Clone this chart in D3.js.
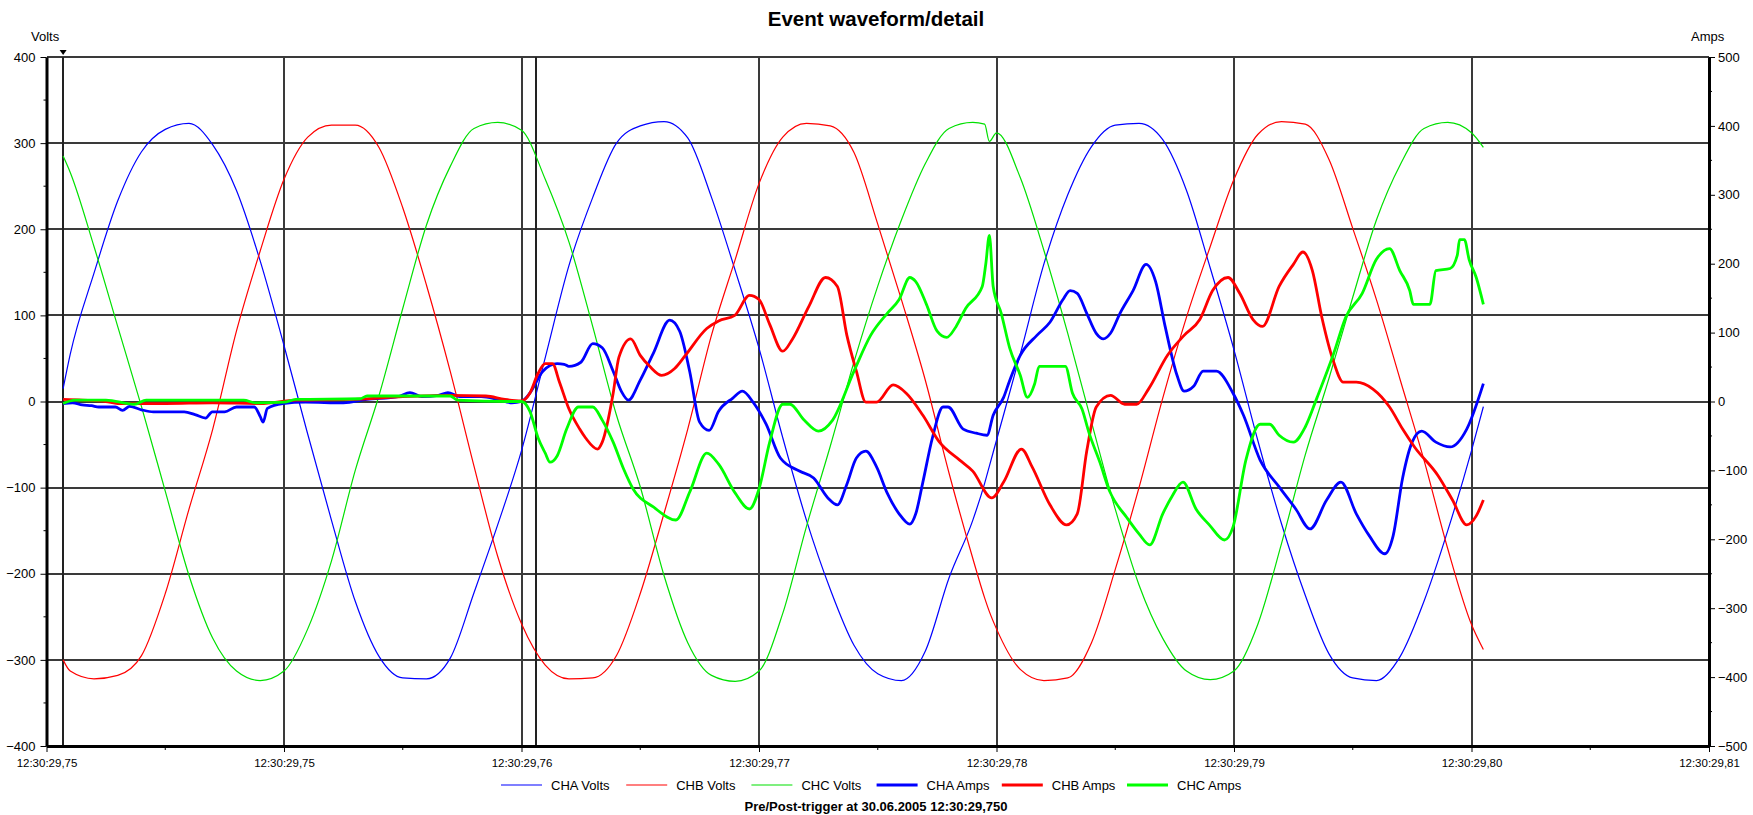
<!DOCTYPE html>
<html>
<head>
<meta charset="utf-8">
<script src="https://cdn.jsdelivr.net/npm/d3@7"></script>
<style>
body { margin: 0; background: #fff; }
svg text { font-family: Arial, "Liberation Sans", sans-serif; fill: #000; }
</style>
</head>
<body>
<script>
// x axis: time in ms after 12:30:29,745 (one major division = 10 ms)
var xTicks = [0, 10, 20, 30, 40, 50, 60, 70];
var xMinorTicks = [5, 15, 25, 35, 45, 55, 65];
var xTickLabels = ["12:30:29,75", "12:30:29,75", "12:30:29,76", "12:30:29,77",
                   "12:30:29,78", "12:30:29,79", "12:30:29,80", "12:30:29,81"];
var voltTicks = [-400, -300, -200, -100, 0, 100, 200, 300, 400];
var ampTicks = [-500, -400, -300, -200, -100, 0, 100, 200, 300, 400, 500];
var cursorT = [0.7, 20.63];

// voltage samples (V)
var voltT = [0.7, 1, 2, 3, 4, 5, 6, 7, 8, 9, 10,
  11, 12, 13, 14, 15, 16, 17, 18, 19, 20,
  21, 22, 23, 24, 25, 26, 27, 28, 29, 30,
  31, 32, 33, 34, 35, 36, 37, 38, 39, 39.5, 39.7,
  40, 41, 42, 43, 44, 45, 46, 47, 48, 49, 50,
  51, 52, 53, 54, 55, 56, 57, 58, 59, 60, 60.5];
var chaVolts = [15, 55, 149, 233, 290, 316, 323, 298, 245, 163, 65,
  -38, -138, -232, -296, -321, -322, -298, -222, -143, -57,
  51, 158, 237, 300, 320, 325, 306, 237, 152, 62,
  -42, -138, -218, -283, -316, -324, -290, -205, -138, -95, -75,
  -45, 55, 160, 240, 296, 321, 323, 304, 245, 155, 60,
  -45, -142, -225, -293, -321, -324, -296, -232, -150, -57, -6];
var chbVolts = [-300, -313, -322, -318, -295, -223, -125, -32, 82, 175, 258,
  307, 321, 321, 295, 225, 135, 35, -75, -180, -258,
  -306, -322, -321, -295, -223, -130, -32, 77, 165, 253,
  307, 323, 320, 289, 206, 118, 25, -83, -182, -228, -244,
  -264, -311, -324, -321, -280, -195, -100, 4, 98, 180, 258,
  310, 325, 322, 281, 201, 118, 25, -68, -171, -259, -288];
var chcVolts = [285, 266, 180, 87, -6, -104, -202, -275, -313, -324, -313,
  -264, -185, -80, 7, 108, 205, 273, 317, 324, 315,
  258, 185, 87, -16, -99, -202, -280, -318, -325, -313,
  -246, -145, -52, 46, 134, 211, 276, 317, 324, 322, 302,
  312, 260, 175, 79, -24, -125, -213, -275, -313, -323, -313,
  -259, -165, -62, 27, 121, 211, 275, 317, 324, 312, 295];

// current samples (A)
var chaAmpsT = [0.7, 1.1, 1.5, 1.9, 2.2, 2.9, 3.2, 3.5, 4.0, 4.5, 5.8, 6.25, 6.7, 6.98, 7.5, 8.0, 8.75, 9.0, 9.12, 9.3,
  9.95, 10.9, 12.5, 13.5, 14.8, 15.3, 15.8, 16.5, 16.9, 17.4, 18.3, 19.0, 19.6, 20.0,
  20.35, 20.9, 21.5, 21.8, 22.0, 22.5, 23.0, 23.4, 23.86, 24.2, 24.5, 25.0, 25.55, 26.24, 26.66, 27.08,
  27.5, 27.9, 28.3, 28.9, 29.3, 29.75, 30.3, 30.9, 31.7, 32.3, 32.9, 33.3, 33.7, 34.1, 34.5, 34.95,
  35.4, 35.9, 36.35, 36.6, 36.9, 37.3, 37.75, 37.96, 38.6, 39.15, 39.6, 39.86, 40.3, 40.56, 41.0,
  41.7, 42.25, 42.8, 43.1, 43.4, 43.8, 44.2, 44.5, 44.8, 45.2, 45.75, 46.3, 46.7, 47.1, 47.6, 47.9,
  48.3, 48.7, 49.26, 49.96, 50.4, 51.1, 51.9, 52.6, 53.2, 53.9, 54.5, 55.15, 55.7, 56.35, 56.7,
  57.1, 57.5, 57.9, 58.5, 59.1, 59.8, 60.5];
var chaAmps = [-3, -2, -5, -6, -8, -8, -13, -7, -12, -15, -15, -19, -24, -15, -15, -8, -8, -22, -30, -10,
  -3, -1, -2, 3, 7, 13, 7, 9, 13, 7, 7, 3, -2, 0,
  12, 44, 55, 54, 51, 57, 84, 78, 44, 15, 2, 31, 70, 118, 102, 44,
  -30, -42, -14, 5, 15, -1, -33, -82, -101, -111, -140, -150, -120, -82, -72, -95,
  -133, -163, -178, -163, -117, -53, -8, -8, -40, -46, -49, -20, 6, 31, 67,
  96, 115, 148, 161, 157, 128, 99, 91, 99, 128, 161, 199, 174, 109, 38, 15,
  22, 44, 44, 12, -20, -85, -124, -156, -185, -143, -117, -163, -195, -221, -195,
  -111, -59, -43, -59, -66, -40, 26];

var chbAmpsT = [0.7, 1.5, 2.5, 3.0, 5.0, 7.0, 9.0, 10.5, 13.0, 15.0, 17.0, 18.5, 19.3, 20.0,
  20.35, 20.7, 21.0, 21.3, 21.6, 22.0, 22.45, 22.7, 23.2, 23.4, 23.86, 24.1, 24.6, 25.0, 25.4, 25.9,
  26.45, 26.9, 27.8, 28.3, 28.98, 29.6, 30.0, 30.45, 31.0, 31.4, 32.1, 32.8, 33.3, 33.7, 34.1, 34.5,
  34.95, 35.65, 36.2, 36.9, 37.6, 38.45, 39.0, 39.8, 40.3, 41.05, 41.5, 42.25, 42.95, 43.4, 43.8,
  44.2, 44.8, 45.4, 45.9, 46.4, 47.2, 47.9, 48.56, 49.1, 49.75, 50.24, 50.8, 51.2, 51.9, 52.5,
  52.9, 53.3, 53.7, 54.2, 54.6, 55.15, 55.85, 56.55, 57.1, 57.6, 58.6, 59.2, 59.8, 60.2, 60.5];
var chbAmps = [3, 2, 0, -3, -3, -2, -3, 2, 3, 7, 9, 8, 3, 1,
  12, 41, 55, 55, 28, -11, -40, -53, -69, -59, 12, 64, 91, 67, 51, 38,
  48, 67, 106, 117, 125, 154, 148, 112, 73, 90, 138, 180, 167, 96, 44, -1,
  -1, 24, 12, -20, -59, -85, -101, -140, -117, -69, -95, -150, -179, -163, -72,
  -8, 9, -4, -4, 18, 67, 96, 119, 161, 180, 157, 119, 109, 167, 199,
  217, 190, 122, 57, 28, 28, 18, -8, -40, -66, -108, -143, -179, -166, -143];

var chcAmpsT = [0.7, 1.2, 2.5, 3.7, 4.2, 8.3, 8.8, 10.0, 10.5, 13.2, 13.5, 17.0, 17.3, 19.5, 20.0,
  20.35, 20.7, 21.0, 21.2, 21.5, 21.9, 22.4, 23.0, 23.4, 23.86, 24.3, 24.7, 25.55, 26.5, 27.1,
  27.8, 28.3, 29.0, 29.6, 30.0, 30.45, 31.0, 31.3, 31.9, 32.5, 33.1, 34.0, 34.7, 35.4, 35.9,
  36.35, 36.6, 37.05, 37.5, 37.9, 38.3, 38.7, 39.4, 39.55, 39.7, 39.86, 40.2, 40.56, 41.0, 41.3,
  41.6, 41.8, 42.9, 43.2, 43.6, 43.9, 44.35, 44.76, 45.5, 46.0, 46.45, 47.0, 47.4, 47.85, 48.4,
  48.96, 49.6, 49.96, 50.5, 51.1, 51.5, 51.9, 52.5, 53.0, 53.5, 54.2, 54.7, 55.4, 55.99, 56.55,
  56.98, 57.4, 57.55, 58.25, 58.5, 59.1, 59.4, 59.5, 59.7, 59.9, 60.2, 60.5];
var chcAmps = [-3, 2, 2, -4, 2, 2, -2, -1, 3, 4, 8, 8, 2, 0, 0,
  -14, -53, -75, -88, -79, -40, -8, -8, -27, -59, -98, -127, -153, -172, -130,
  -75, -91, -133, -156, -127, -59, -4, -4, -27, -43, -27, 44, 96, 128, 148,
  180, 174, 141, 102, 93, 109, 135, 167, 200, 241, 167, 128, 77, 38, 6,
  25, 51, 51, 12, -11, -46, -88, -130, -169, -192, -208, -163, -137, -117, -156,
  -179, -201, -182, -85, -33, -33, -49, -59, -37, 6, 70, 122, 157, 206, 222,
  190, 161, 141, 141, 190, 193, 212, 235, 235, 206, 180, 141];

var seriesNames = ["CHA Volts", "CHB Volts", "CHC Volts", "CHA Amps", "CHB Amps", "CHC Amps"];
var seriesColors = ["#0000ff", "#ff0000", "#00e000", "#0000ff", "#ff0000", "#00ff00"];

window.onload = function() {
  var W = 1753, H = 815;
  var left = 46.5, right = 1709, top = 57, bottom = 746;

  var svg = d3.select("body").append("svg").attr("width", W).attr("height", H);

  var x = d3.scaleLinear().domain([0, 70]).range([left, right]);
  var yV = d3.scaleLinear().domain([-400, 400]).range([bottom, top]);
  var yA = d3.scaleLinear().domain([-500, 500]).range([bottom, top]);

  //Grid lines
  var grid = svg.append("g").attr("stroke", "#3a3a3a").attr("stroke-width", 2).attr("shape-rendering", "crispEdges");
  grid.selectAll("line.h").data(voltTicks.filter(function(d) { return d > -400; })).enter()
    .append("line").attr("class", "h")
    .attr("x1", left).attr("x2", right)
    .attr("y1", function(d) { return yV(d); }).attr("y2", function(d) { return yV(d); });
  grid.selectAll("line.v").data(xTicks.filter(function(d) { return d > 0 && d < 70; })).enter()
    .append("line").attr("class", "v")
    .attr("x1", function(d) { return x(d); }).attr("x2", function(d) { return x(d); })
    .attr("y1", top).attr("y2", bottom);

  //Cursors
  svg.selectAll("line.cursor").data(cursorT).enter().append("line").attr("class", "cursor")
    .attr("x1", function(d) { return x(d); }).attr("x2", function(d) { return x(d); })
    .attr("y1", top).attr("y2", bottom)
    .attr("stroke", "#222").attr("stroke-width", 2).attr("shape-rendering", "crispEdges");
  var cx = x(cursorT[0]);
  svg.append("path").attr("d", "M" + (cx - 3.5) + "," + (top - 7) + "L" + (cx + 3.5) + "," + (top - 7) + "L" + cx + "," + (top - 2) + "Z")
    .attr("fill", "#000");

  //Lines
  function lineFor(times, yScale) {
    return d3.line().x(function(d, i) { return x(times[i]); }).y(function(d) { return yScale(d); })
      .curve(d3.curveMonotoneX);
  }
  var plots = [
    [chaVolts, voltT, yV, 0, 1.2], [chbVolts, voltT, yV, 1, 1.2], [chcVolts, voltT, yV, 2, 1.2],
    [chaAmps, chaAmpsT, yA, 3, 2.8], [chbAmps, chbAmpsT, yA, 4, 2.8], [chcAmps, chcAmpsT, yA, 5, 2.8]
  ];
  plots.forEach(function(p) {
    svg.append("path").datum(p[0])
      .attr("d", lineFor(p[1], p[2]))
      .attr("fill", "none")
      .attr("stroke", seriesColors[p[3]])
      .attr("stroke-width", p[4])
      .attr("stroke-linejoin", "round");
  });

  //Axes
  var axL = svg.append("g").attr("transform", "translate(" + left + ",0)")
    .call(d3.axisLeft(yV).tickValues(voltTicks).tickSize(6).tickSizeOuter(0).tickPadding(5));
  axL.append("g").selectAll("line").data(d3.range(-350, 400, 100)).enter().append("line")
    .attr("x1", -3).attr("x2", 0).attr("y1", function(d) { return yV(d); }).attr("y2", function(d) { return yV(d); })
    .attr("stroke", "#000");

  var axR = svg.append("g").attr("transform", "translate(" + right + ",0)")
    .call(d3.axisRight(yA).tickValues(ampTicks).tickSize(6).tickSizeOuter(0).tickPadding(3));
  axR.append("g").selectAll("line").data(d3.range(-450, 500, 100)).enter().append("line")
    .attr("x1", 0).attr("x2", 3).attr("y1", function(d) { return yA(d); }).attr("y2", function(d) { return yA(d); })
    .attr("stroke", "#000");

  var axB = svg.append("g").attr("transform", "translate(0," + bottom + ")")
    .call(d3.axisBottom(x).tickValues(xTicks).tickSize(6).tickSizeOuter(0).tickPadding(7)
      .tickFormat(function(d, i) { return xTickLabels[i]; }));
  axB.append("g").selectAll("line").data(xMinorTicks).enter().append("line")
    .attr("x1", function(d) { return x(d); }).attr("x2", function(d) { return x(d); })
    .attr("y1", 0).attr("y2", 4).attr("stroke", "#000");

  [axL, axR, axB].forEach(function(a) {
    a.select(".domain").attr("stroke", "#000").attr("stroke-width", 3);
    a.selectAll(".tick line").attr("stroke", "#000").attr("stroke-width", 1);
    a.selectAll("text").attr("font-family", "Arial, 'Liberation Sans', sans-serif").attr("fill", "#000");
  });
  axL.selectAll("text").attr("font-size", "13px");
  axR.selectAll("text").attr("font-size", "13px");
  axB.selectAll("text").attr("font-size", "11.5px");

  //Titles
  svg.append("text").text("Event waveform/detail")
    .attr("x", 876).attr("y", 26).attr("text-anchor", "middle")
    .attr("font-size", "20.5px").attr("font-weight", "bold");
  svg.append("text").text("Volts").attr("x", 31).attr("y", 41).attr("font-size", "13px");
  svg.append("text").text("Amps").attr("x", 1691).attr("y", 41).attr("font-size", "13px");
  svg.append("text").text("Pre/Post-trigger at 30.06.2005 12:30:29,750")
    .attr("x", 876).attr("y", 811).attr("text-anchor", "middle")
    .attr("font-size", "13px").attr("font-weight", "bold");

  //Legend
  var leg = svg.append("g").selectAll("g").data(seriesNames).enter().append("g")
    .attr("transform", function(d, i) { return "translate(" + (501 + i * 125.2) + ",785)"; });
  leg.append("line").attr("x1", 0).attr("x2", 41).attr("y1", 0).attr("y2", 0)
    .attr("stroke", function(d, i) { return seriesColors[i]; })
    .attr("stroke-width", function(d, i) { return i < 3 ? 1.2 : 2.8; });
  leg.append("text").text(function(d) { return d; })
    .attr("x", 50).attr("y", 4.5).attr("font-size", "13px");
};
</script>
</body>
</html>
